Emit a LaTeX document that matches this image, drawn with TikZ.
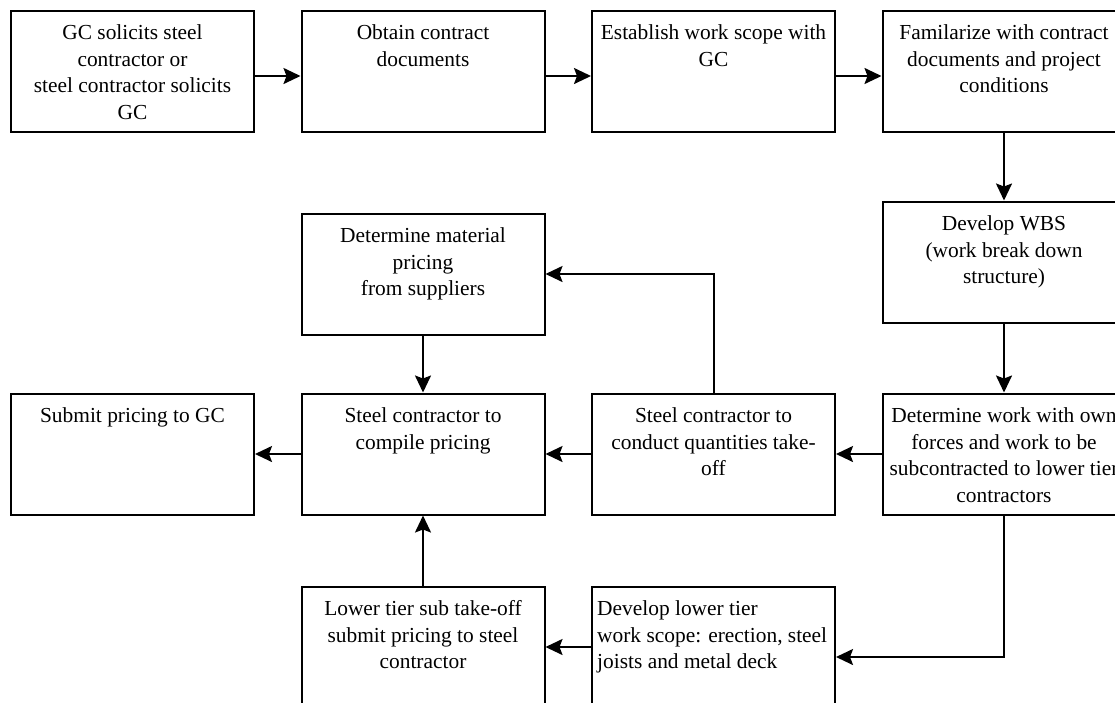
\documentclass[tikz,border=0pt]{standalone}
\usepackage{fontspec}
\setmainfont{Liberation Serif}
\usetikzlibrary{positioning,arrows.meta}
\tikzset{
	stage/.style = {draw, rectangle, line width=2pt,
		minimum width=243pt,
		minimum height=121pt},
	intext/.style = {anchor=north, align=center, inner xsep=0pt, inner ysep=15pt,
		font=\fontsize{21.4}{26.5}\selectfont},
	inlefttext/.style = {anchor=north west, align=left, inner xsep=6pt, inner ysep=15pt,
		font=\fontsize{21.4}{26.5}\selectfont},
	arrow/.style = {draw, line width=2pt, -{Stealth[length=17pt,width=16pt,inset=3pt]}},
}

\begin{document}
\begin{tikzpicture}[node distance=68pt and 45.5pt]
	\useasboundingbox (0,0) rectangle (1115pt,-702pt);
	\clip (0,0) rectangle (1115pt,-702pt);
	%Nodes
	\node[stage, label={[intext]north:{GC solicits steel\\contractor or\\steel contractor solicits\\GC}}] (solicit) at (132.5pt,-71pt) {};
	\node[stage, label={[intext]north:{Obtain contract\\documents}}] (documents) [right=of solicit] {};
	\node[stage, label={[intext]north:{Establish work scope with\\GC}}] (scope) [right=of documents] {};
	\node[stage, label={[intext]north:{Familarize with contract\\documents and project\\conditions}}] (familiar) [right=of scope] {};
	\node[stage, label={[intext]north:{Develop WBS\\(work break down\\structure)}}] (wbs) [below=of familiar] {};
	\node[stage, label={[intext]north:{Determine work with own\\forces and  work to be\\subcontracted to lower tier\\contractors}}] (ownforces) [below=69pt of wbs] {};
	\node[stage, label={[intext]north:{Steel contractor to\\conduct  quantities take-\\off}}] (takeoff) [left=of ownforces] {};
	\node[stage, label={[intext]north:{Steel contractor to\\compile pricing}}] (compile) [left=of takeoff] {};
	\node[stage, label={[intext]north:{Submit pricing to GC}}] (submit) [left=of compile] {};
	\node[stage, label={[intext]north:{Determine material\\pricing\\from suppliers}}] (material) [above=57pt of compile] {};
	\node[stage, label={[intext]north:{Lower tier sub take-off\\submit pricing to steel\\contractor}}] (lowersub) [below=70pt of compile] {};
	\node[stage, label={[inlefttext]north west:{Develop lower tier\\work scope: erection, steel\\joists and metal deck}}] (lowerscope) [right=of lowersub] {};
	%Lines
	\draw[arrow] ([yshift=-5pt]solicit.east) -- ([yshift=-5pt]documents.west);
	\draw[arrow] ([yshift=-5pt]documents.east) -- ([yshift=-5pt]scope.west);
	\draw[arrow] ([yshift=-5pt]scope.east) -- ([yshift=-5pt]familiar.west);
	\draw[arrow] (familiar.south) -- (wbs.north);
	\draw[arrow] (wbs.south) -- (ownforces.north);
	\draw[arrow] (ownforces.west) -- (takeoff.east);
	\draw[arrow] (takeoff.west) -- (compile.east);
	\draw[arrow] (compile.west) -- (submit.east);
	\draw[arrow] (takeoff.north) |- (material.east);
	\draw[arrow] (material.south) -- (compile.north);
	\draw[arrow] (lowersub.north) -- (compile.south);
	\draw[arrow] (ownforces.south) |- ([yshift=-10pt]lowerscope.east);
	\draw[arrow] (lowerscope.west) -- (lowersub.east);
\end{tikzpicture}
\end{document}
